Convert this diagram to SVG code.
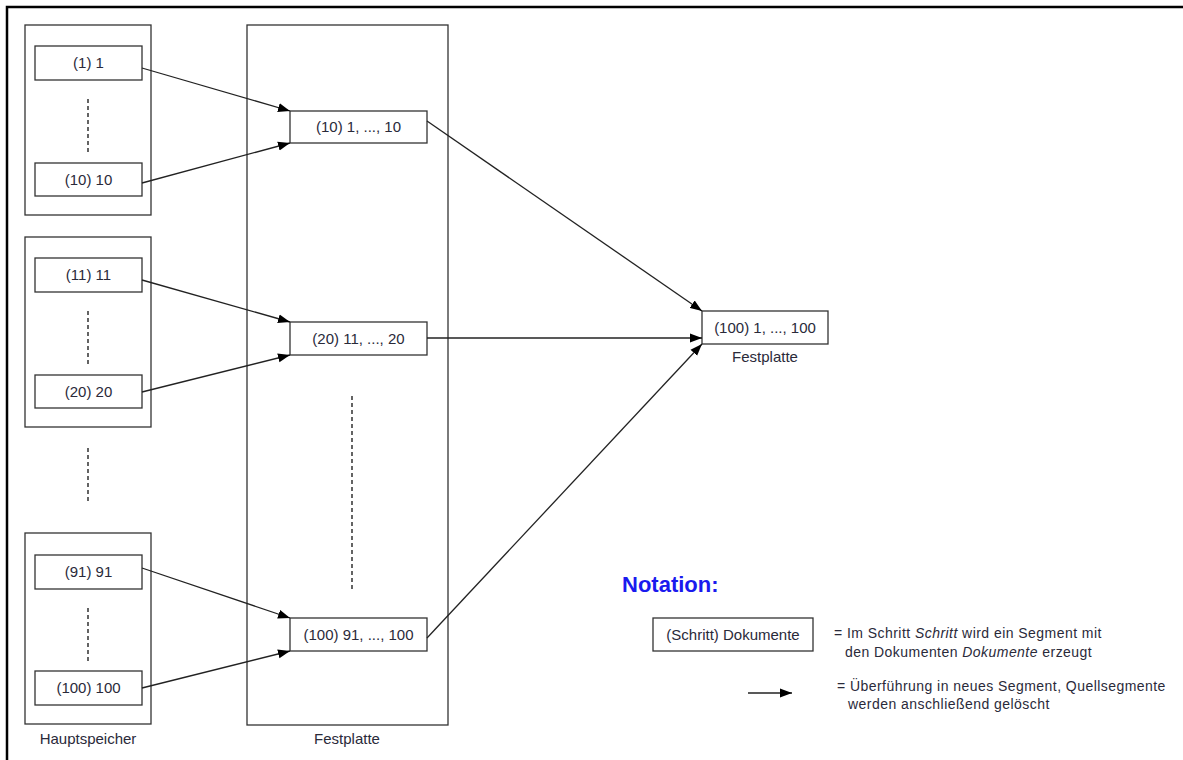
<svg xmlns="http://www.w3.org/2000/svg" width="1183" height="760" viewBox="0 0 1183 760">
  <style>
    .frame { fill: none; stroke: #000; stroke-width: 2.5; }
    .group { fill: none; stroke: #333; stroke-width: 1.3; }
    .box { fill: #fff; stroke: #333; stroke-width: 1.3; }
    .dash { stroke: #111; stroke-width: 1.3; stroke-dasharray: 4 3; }
    .lbl { font-family: "Liberation Sans", Arial, sans-serif; font-size: 15px; fill: #2a2a3a; }
    .note { font-family: "Liberation Sans", Arial, sans-serif; font-size: 14px; letter-spacing: 0.45px; fill: #2a2a3a; }
    .mid { text-anchor: middle; }
    .edge { stroke: #222; stroke-width: 1.3; fill: none; marker-end: url(#arrow); }
  </style>
  <defs>
    <marker id="arrow" viewBox="0 0 12 10" refX="12" refY="5" markerWidth="12" markerHeight="10" markerUnits="userSpaceOnUse" orient="auto">
      <path d="M0,0.5 L12,5 L0,9.5 z" fill="#000"/>
    </marker>
  </defs>

  <rect width="1183" height="760" fill="#fff"/>
  <!-- outer frame (top and left edges) -->
  <path class="frame" d="M7,760 V7 H1183"/>

  <!-- main memory groups -->
  <g id="ram-group-1">
    <rect class="group" x="25" y="25" width="126" height="190"/>
    <g id="seg-1"><rect class="box" x="35" y="46" width="107" height="34"/><text class="lbl mid" x="88.5" y="68">(1) 1</text></g>
    <line class="dash" x1="88" y1="99" x2="88" y2="155"/>
    <g id="seg-10"><rect class="box" x="35" y="163" width="107" height="33"/><text class="lbl mid" x="88.5" y="185">(10) 10</text></g>
  </g>
  <g id="ram-group-2">
    <rect class="group" x="25" y="237" width="126" height="190"/>
    <g id="seg-11"><rect class="box" x="35" y="258" width="107" height="34"/><text class="lbl mid" x="88.5" y="280">(11) 11</text></g>
    <line class="dash" x1="88" y1="311" x2="88" y2="367"/>
    <g id="seg-20"><rect class="box" x="35" y="375" width="107" height="33"/><text class="lbl mid" x="88.5" y="397">(20) 20</text></g>
  </g>
  <line class="dash" x1="88" y1="448" x2="88" y2="503"/>
  <g id="ram-group-3">
    <rect class="group" x="25" y="533" width="126" height="191"/>
    <g id="seg-91"><rect class="box" x="35" y="555" width="107" height="34"/><text class="lbl mid" x="88.5" y="577">(91) 91</text></g>
    <line class="dash" x1="88" y1="608" x2="88" y2="664"/>
    <g id="seg-100"><rect class="box" x="35" y="671" width="107" height="34"/><text class="lbl mid" x="88.5" y="693">(100) 100</text></g>
  </g>
  <text class="lbl mid" x="88" y="744">Hauptspeicher</text>

  <!-- disk column -->
  <g id="disk">
    <rect class="group" x="247" y="25" width="201" height="700"/>
    <line class="dash" x1="352" y1="396" x2="352" y2="589"/>
    <text class="lbl mid" x="347" y="744">Festplatte</text>
  </g>
  <g id="seg-1-10"><rect class="box" x="290" y="111" width="137" height="32"/><text class="lbl mid" x="358.5" y="132">(10) 1, ..., 10</text></g>
  <g id="seg-11-20"><rect class="box" x="290" y="322" width="137" height="33"/><text class="lbl mid" x="358.5" y="344">(20) 11, ..., 20</text></g>
  <g id="seg-91-100"><rect class="box" x="290" y="618" width="137" height="33"/><text class="lbl mid" x="358.5" y="640">(100) 91, ..., 100</text></g>

  <!-- merged segment -->
  <g id="seg-1-100">
    <rect class="box" x="702" y="311" width="126" height="33"/>
    <text class="lbl mid" x="765" y="333">(100) 1, ..., 100</text>
    <text class="lbl mid" x="765" y="362">Festplatte</text>
  </g>

  <!-- connectors -->
  <g id="connectors">
    <line class="edge" x1="142" y1="68" x2="290" y2="111"/>
    <line class="edge" x1="142" y1="183" x2="290" y2="143"/>
    <line class="edge" x1="142" y1="280" x2="290" y2="322"/>
    <line class="edge" x1="142" y1="392" x2="290" y2="355"/>
    <line class="edge" x1="142" y1="568" x2="290" y2="618"/>
    <line class="edge" x1="142" y1="688" x2="290" y2="651"/>
    <line class="edge" x1="427" y1="121" x2="702" y2="311"/>
    <line class="edge" x1="427" y1="338" x2="702" y2="338"/>
    <line class="edge" x1="427" y1="638" x2="702" y2="344"/>
  </g>

  <!-- legend -->
  <g id="legend">
    <text x="622" y="592" font-family="Liberation Sans, Arial, sans-serif" font-size="22" font-weight="bold" fill="#1a1aee">Notation:</text>
    <g id="legend-box"><rect class="box" x="653" y="618" width="160" height="33"/><text class="lbl mid" x="733" y="640">(Schritt) Dokumente</text></g>
    <text class="note" x="834" y="638">= Im Schritt <tspan font-style="italic">Schritt</tspan> wird ein Segment mit</text>
    <text class="note" x="845" y="657">den Dokumenten <tspan font-style="italic">Dokumente</tspan> erzeugt</text>
    <line class="edge" x1="748" y1="693" x2="792" y2="693"/>
    <text class="note" x="837" y="691">= Überführung in neues Segment, Quellsegmente</text>
    <text class="note" x="848" y="709">werden anschließend gelöscht</text>
  </g>
</svg>
